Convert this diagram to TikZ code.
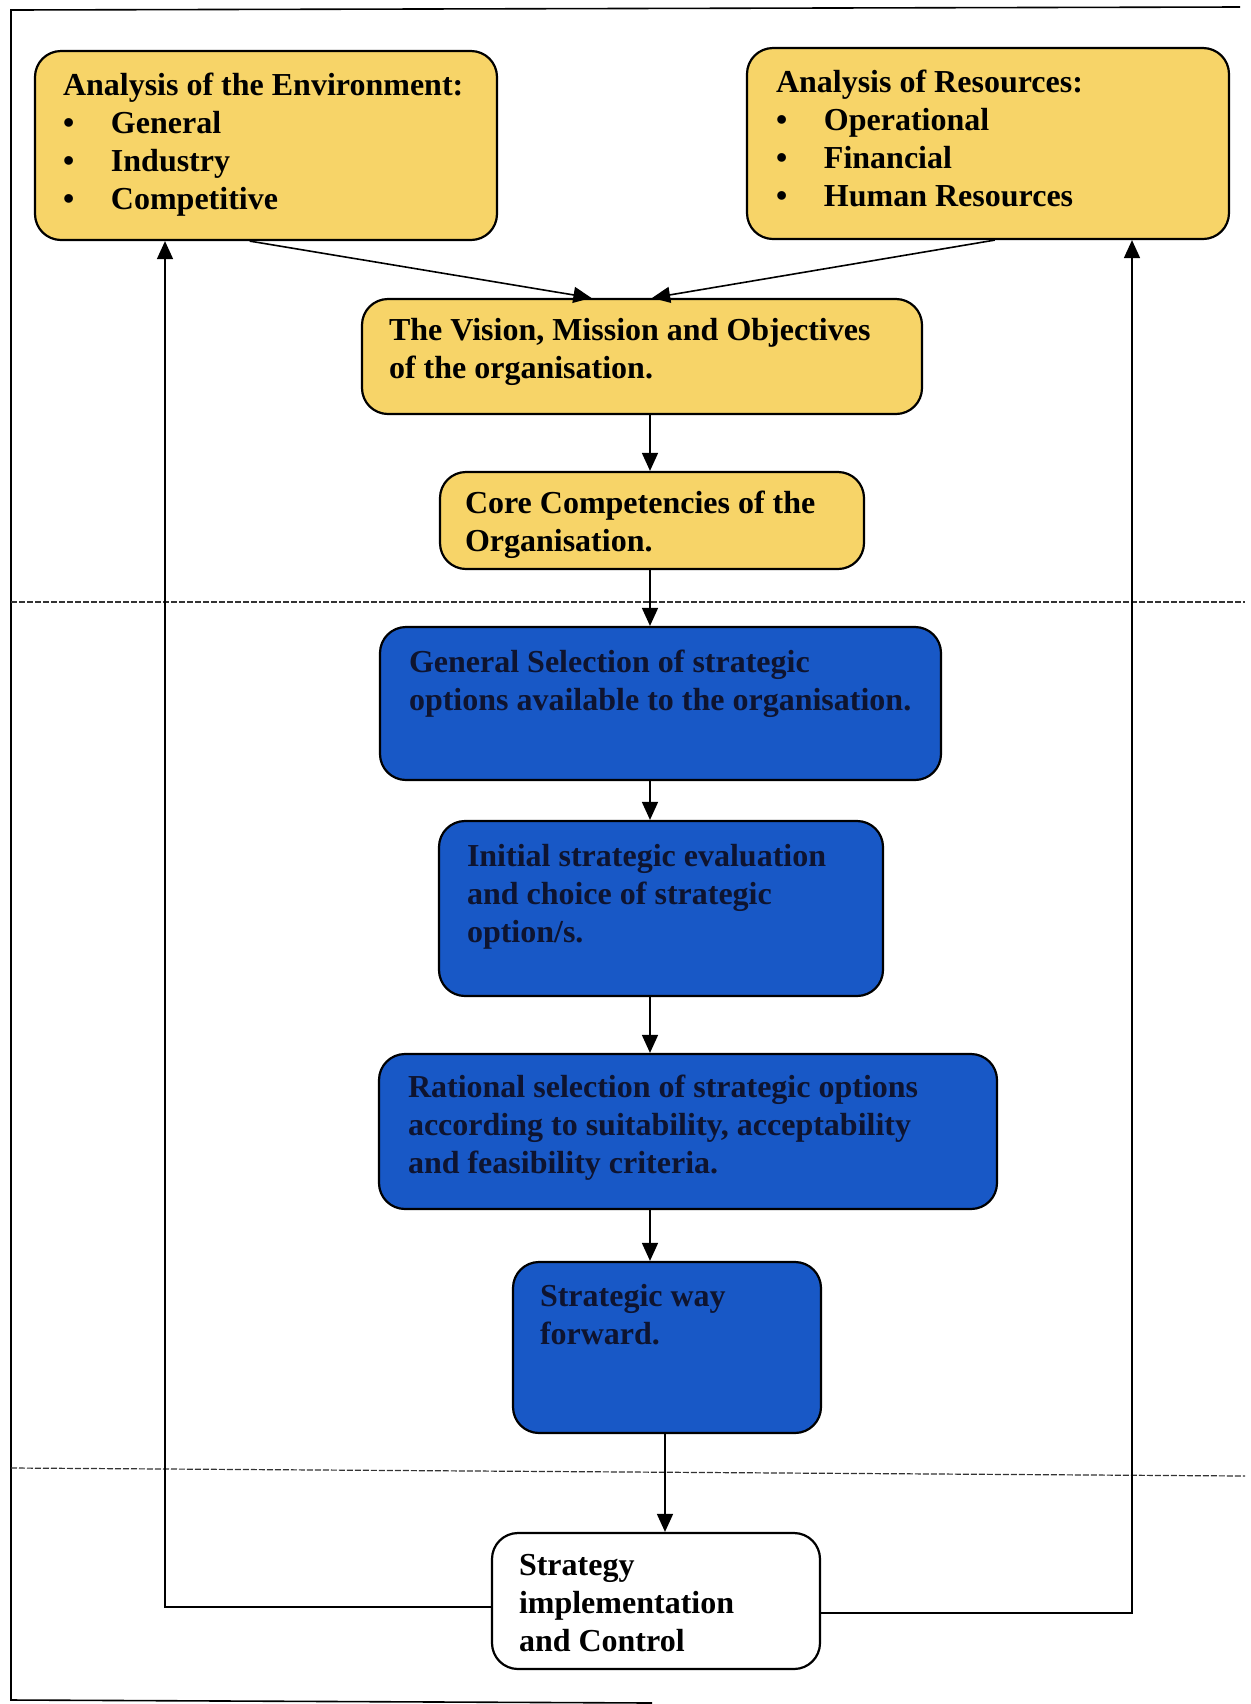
\documentclass[tikz,border=0pt]{standalone}
\usepackage{fontspec}
\setmainfont{Liberation Serif}
\usetikzlibrary{arrows.meta,calc}

\definecolor{boxyellow}{RGB}{247,212,104}
\definecolor{boxblue}{RGB}{24,88,198}
\definecolor{bluetext}{RGB}{14,20,48}

% #1 style, #2 name, #3/#4 centre, #5 width, #6 height, #7/#8 padding, #9 text
\newcommand\flowbox[9]{%
  \node[#1, minimum width=#5*0.5pt, minimum height=#6*0.5pt,
        inner xsep=#7*0.5pt, inner ysep=#8*0.5pt] (#2) at (#3,#4)
  {\parbox[c][\dimexpr(#6pt-#8pt*2)/2\relax][t]{\dimexpr(#5pt-#7pt*2)/2\relax}{\raggedright #9}};}
\newcommand\bul[1]{\makebox[24pt][l]{\textbullet}#1}

\begin{document}
\begin{tikzpicture}[x=0.5pt,y=-0.5pt,
  flow/.style={draw=black, line width=1.1pt, rounded corners=13pt,
    font=\fontsize{16}{19}\selectfont\bfseries},
  yelbox/.style={flow, fill=boxyellow, text=black},
  bluebox/.style={flow, fill=boxblue, text=bluetext},
  whitebox/.style={flow, fill=white, text=black},
  arr/.style={draw, line width=0.8pt, -{Triangle[length=9pt,width=8pt]}},
  frame/.style={draw, line width=0.8pt},
  divider/.style={draw=black!80, line width=0.6pt, dash pattern=on 3pt off 1pt}]

\useasboundingbox (0,0) rectangle (1250,1704);

% page frame
\draw[frame] (1240,7) -- (11,10) -- (11,1700) -- (652,1703);

% section dividers
\draw[divider] (11,602) -- (1245,602);
\draw[divider] (11,1468) -- (1245,1476);

% boxes
\flowbox{yelbox}{env}{266}{145.5}{462}{189}{28}{22}{%
  Analysis of the Environment:\\ \bul{General}\\ \bul{Industry}\\ \bul{Competitive}}
\flowbox{yelbox}{res}{988}{143.5}{482}{191}{29}{22}{%
  Analysis of Resources:\\ \bul{Operational}\\ \bul{Financial}\\ \bul{Human Resources}}
\flowbox{yelbox}{vision}{642}{356.5}{560}{115}{27}{19}{%
  The Vision, Mission and Objectives\\ of the organisation.}
\flowbox{yelbox}{core}{652}{520.5}{424}{97}{25}{19}{%
  Core Competencies of the\\ Organisation.}
\flowbox{bluebox}{gen}{660.5}{703.5}{561}{153}{29}{23}{%
  General Selection of strategic\\ options available to the organisation.}
\flowbox{bluebox}{init}{661}{908.5}{444}{175}{28}{23}{%
  Initial strategic evaluation\\ and choice of strategic\\ option/s.}
\flowbox{bluebox}{rat}{688}{1131.5}{618}{155}{29}{21}{%
  Rational selection of strategic options\\ according to suitability, acceptability\\ and feasibility criteria.}
\flowbox{bluebox}{way}{667}{1347.5}{308}{171}{27}{22}{%
  Strategic way\\ forward.}
\flowbox{whitebox}{impl}{656}{1601}{328}{136}{27}{21}{%
  Strategy\\ implementation\\ and Control}

% guide coordinates for the connectors
\coordinate (spine) at (650,0);
\coordinate (spine2) at (665,0);
\coordinate (fbL) at (165,0);
\coordinate (fbR) at (1132,0);

% connectors
\draw[arr] ($(env.south west)!0.465!(env.south east)$) -- ($(vision.north west)!0.41!(vision.north east)$);
\draw[arr] ($(res.south west)!0.514!(res.south east)$) -- ($(vision.north west)!0.518!(vision.north east)$);
\draw[arr] (vision.south -| spine) -- (core.north -| spine);
\draw[arr] (core.south -| spine) -- (gen.north -| spine);
\draw[arr] (gen.south -| spine) -- (init.north -| spine);
\draw[arr] (init.south -| spine) -- (rat.north -| spine);
\draw[arr] (rat.south -| spine) -- (way.north -| spine);
\draw[arr] (way.south -| spine2) -- (impl.north -| spine2);

% feedback loops
\draw[arr] ([yshift=-3pt]impl.west) -| (env.south -| fbL);
\draw[arr] ([yshift=-6pt]impl.east) -| (res.south -| fbR);
\end{tikzpicture}
\end{document}
